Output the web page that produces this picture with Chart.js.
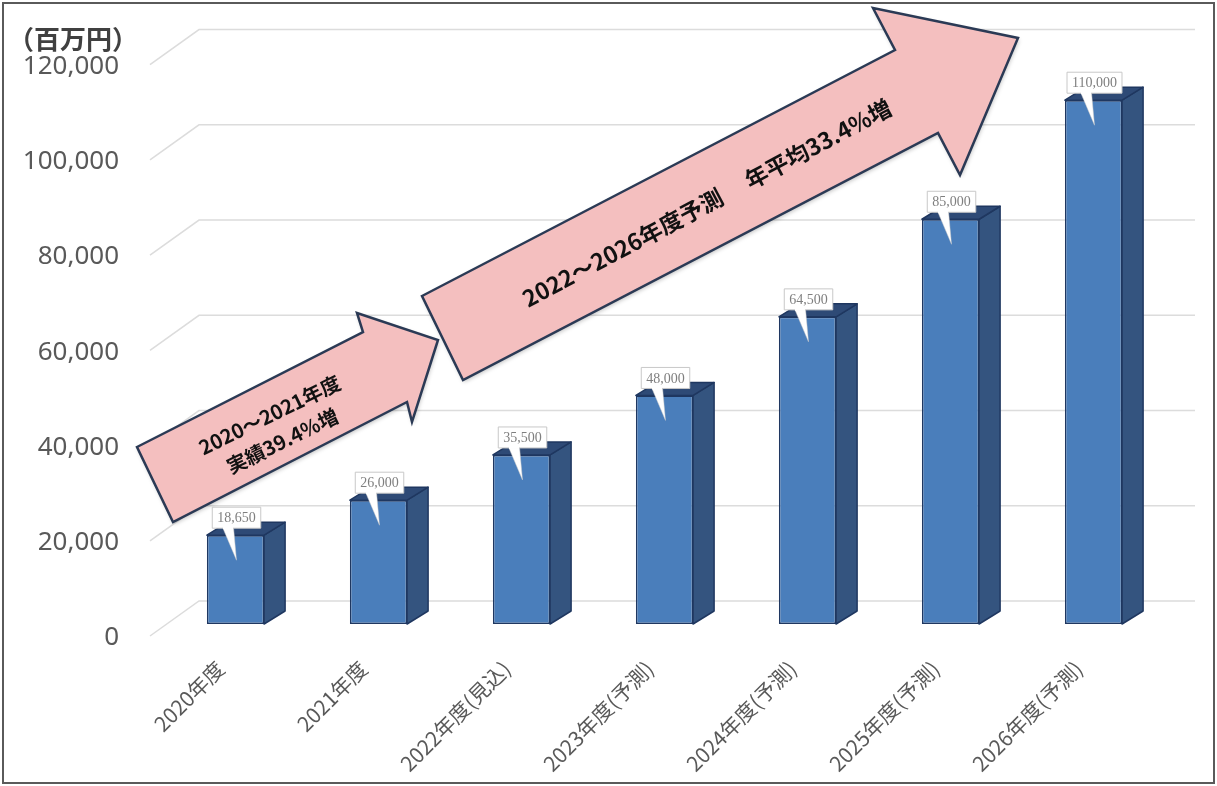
<!DOCTYPE html>
<html>
<head>
<meta charset="utf-8">
<script src="https://cdn.jsdelivr.net/npm/chart.js@4/dist/chart.umd.min.js"></script>
<style>
  html, body { margin: 0; padding: 0; background: #fff; }
  #wrap { width: 1217px; height: 786px; }
</style>
</head>
<body>
<div id="wrap"><canvas id="chart" width="1217" height="786"></canvas></div>
<script>
const categories = ['2020年度', '2021年度', '2022年度(見込)', '2023年度(予測)', '2024年度(予測)', '2025年度(予測)', '2026年度(予測)'];
const sales = [18650, 26000, 35500, 48000, 64500, 85000, 110000];
const yMin = 0;
const yMax = 120000;
const yStep = 20000;
const unitLabel = '（百万円）';
const noteActual = ['2020～2021年度', '実績39.4%増'];
const noteForecast = ['2022～2026年度予測', '年平均33.4%増'];

const depth = { dx: 21, dy: -13 };
const fmt = v => v.toLocaleString('en-US');

// annotation arrows (page pixels)
const arrowSmall = [[137, 447], [363, 332], [357, 313], [438, 340], [412, 422], [407, 402], [173, 522]];
const arrowBig = [[422, 296], [895, 50], [873, 8], [1018, 38], [960, 175], [938, 133], [463, 380]];

const framePlugin = {
  id: 'frame',
  beforeDraw(chart) {
    const ctx = chart.ctx;
    ctx.save();
    ctx.fillStyle = '#fff';
    ctx.fillRect(0, 0, chart.width, chart.height);
    ctx.strokeStyle = '#5a5a5a';
    ctx.lineWidth = 2;
    ctx.strokeRect(3, 3, chart.width - 6, chart.height - 6);
    ctx.restore();
  }
};

const wallGrid = {
  id: 'wallGrid',
  beforeDatasetsDraw(chart) {
    const ctx = chart.ctx;
    const y = chart.scales.y;
    const area = chart.chartArea;
    ctx.save();
    ctx.strokeStyle = '#dcdcdc';
    ctx.lineWidth = 1.5;
    y.ticks.forEach(t => {
      const py = y.getPixelForValue(t.value);
      ctx.beginPath();
      ctx.moveTo(area.left - 14, py + 12);
      ctx.lineTo(area.left + 35, py - 23);
      ctx.lineTo(area.right + 30, py - 23);
      ctx.stroke();
    });
    ctx.restore();
  }
};

const bars3d = {
  id: 'bars3d',
  afterDatasetsDraw(chart) {
    const ctx = chart.ctx;
    const meta = chart.getDatasetMeta(0);
    ctx.save();
    ctx.lineJoin = 'round';
    ctx.strokeStyle = '#1f3760';
    ctx.lineWidth = 1.5;
    meta.data.forEach(el => {
      const { x, y, width, base } = el.getProps(['x', 'y', 'width', 'base'], true);
      const l = x - width / 2, r = x + width / 2;
      // side
      ctx.beginPath();
      ctx.moveTo(r, y);
      ctx.lineTo(r + depth.dx, y + depth.dy);
      ctx.lineTo(r + depth.dx, base + depth.dy);
      ctx.lineTo(r, base);
      ctx.closePath();
      ctx.fillStyle = '#34547f';
      ctx.fill();
      ctx.stroke();
      // top
      ctx.beginPath();
      ctx.moveTo(l, y);
      ctx.lineTo(l + depth.dx, y + depth.dy);
      ctx.lineTo(r + depth.dx, y + depth.dy);
      ctx.lineTo(r, y);
      ctx.closePath();
      ctx.fillStyle = '#2e4a76';
      ctx.fill();
      ctx.stroke();
    });

    // callout labels
    ctx.font = '14px "Liberation Serif"';
    ctx.textAlign = 'center';
    ctx.textBaseline = 'middle';
    meta.data.forEach((el, i) => {
      const { x, y } = el.getProps(['x', 'y'], true);
      const text = fmt(sales[i]);
      const w = ctx.measureText(text).width + 10;
      const h = 21;
      const cx = x + 1;
      const bottom = y - 7;
      // pointer
      ctx.beginPath();
      ctx.moveTo(cx - 14, bottom - 1);
      ctx.lineTo(cx, y + 25);
      ctx.lineTo(cx - 3, bottom - 1);
      ctx.closePath();
      ctx.fillStyle = '#fff';
      ctx.fill();
      ctx.strokeStyle = 'rgba(200,200,200,0.6)';
      ctx.lineWidth = 0.8;
      ctx.stroke();
      // box
      ctx.fillStyle = '#fff';
      ctx.fillRect(cx - w / 2, bottom - h, w, h);
      ctx.strokeStyle = '#c8c8c8';
      ctx.lineWidth = 1;
      ctx.strokeRect(cx - w / 2, bottom - h, w, h);
      // cover pointer joint
      ctx.fillStyle = '#fff';
      ctx.fillRect(cx - 13.5, bottom - 2, 10, 3);
      ctx.fillStyle = '#7f7f7f';
      ctx.fillText(text, cx, bottom - h / 2 + 1);
    });
    ctx.restore();
  }
};

function drawArrow(ctx, pts) {
  ctx.save();
  ctx.beginPath();
  pts.forEach((p, i) => i ? ctx.lineTo(p[0], p[1]) : ctx.moveTo(p[0], p[1]));
  ctx.closePath();
  ctx.shadowColor = 'rgba(0,0,0,0.25)';
  ctx.shadowBlur = 4;
  ctx.shadowOffsetX = 1;
  ctx.shadowOffsetY = 2;
  ctx.fillStyle = '#f4bfbf';
  ctx.fill();
  ctx.shadowColor = 'transparent';
  ctx.strokeStyle = '#2b3a55';
  ctx.lineWidth = 2.5;
  ctx.lineJoin = 'miter';
  ctx.stroke();
  ctx.restore();
}

const notes = {
  id: 'notes',
  afterDraw(chart) {
    const ctx = chart.ctx;
    ctx.save();
    // unit label
    ctx.font = 'bold 26px "Noto Sans CJK JP"';
    ctx.fillStyle = '#404040';
    ctx.textAlign = 'left';
    ctx.textBaseline = 'middle';
    ctx.fillText(unitLabel, 8, 39);

    drawArrow(ctx, arrowSmall);
    drawArrow(ctx, arrowBig);

    ctx.fillStyle = '#111';
    ctx.textAlign = 'center';
    ctx.textBaseline = 'middle';

    ctx.save();
    ctx.translate(276, 428);
    ctx.rotate(-26 * Math.PI / 180);
    ctx.font = 'bold 20px "Noto Sans CJK JP"';
    ctx.fillText(noteActual[0], 0, -14.5);
    ctx.fillText(noteActual[1], 0, 14.5);
    ctx.restore();

    ctx.save();
    ctx.translate(707, 203);
    ctx.rotate(-28 * Math.PI / 180);
    ctx.font = 'bold 23px "Noto Sans CJK JP"';
    ctx.fillText(noteForecast[0] + '　 ' + noteForecast[1], 0, 0);
    ctx.restore();

    ctx.restore();
  }
};

new Chart(document.getElementById('chart'), {
  type: 'bar',
  data: {
    labels: categories,
    datasets: [{
      data: sales,
      backgroundColor: '#4a7ebb',
      borderColor: '#1f3760',
      borderWidth: 1.5,
      borderSkipped: false,
      categoryPercentage: 1,
      barPercentage: 0.4
    }]
  },
  options: {
    responsive: false,
    animation: false,
    devicePixelRatio: 1,
    layout: { padding: { top: 50, right: 52, left: 0, bottom: 0 } },
    plugins: {
      legend: { display: false },
      tooltip: { enabled: false }
    },
    scales: {
      x: {
        grid: { display: false },
        border: { display: false },
        ticks: {
          font: { family: '"Noto Sans CJK JP"', size: 21 },
          color: '#595959',
          minRotation: 45,
          maxRotation: 45,
          autoSkip: false,
          padding: 24,
          labelOffset: -15
        },
        afterFit(s) { s.height = 162; s.paddingLeft = 0; s.paddingRight = 0; }
      },
      y: {
        min: yMin,
        max: yMax,
        grid: { display: false },
        border: { display: false },
        ticks: {
          stepSize: yStep,
          font: { family: '"Noto Sans"', size: 26 },
          color: '#595959',
          padding: 37,
          labelOffset: 14,
          callback: v => fmt(v)
        },
        afterFit(s) { s.width = 164; }
      }
    }
  },
  plugins: [framePlugin, wallGrid, bars3d, notes]
});
</script>
</body>
</html>
